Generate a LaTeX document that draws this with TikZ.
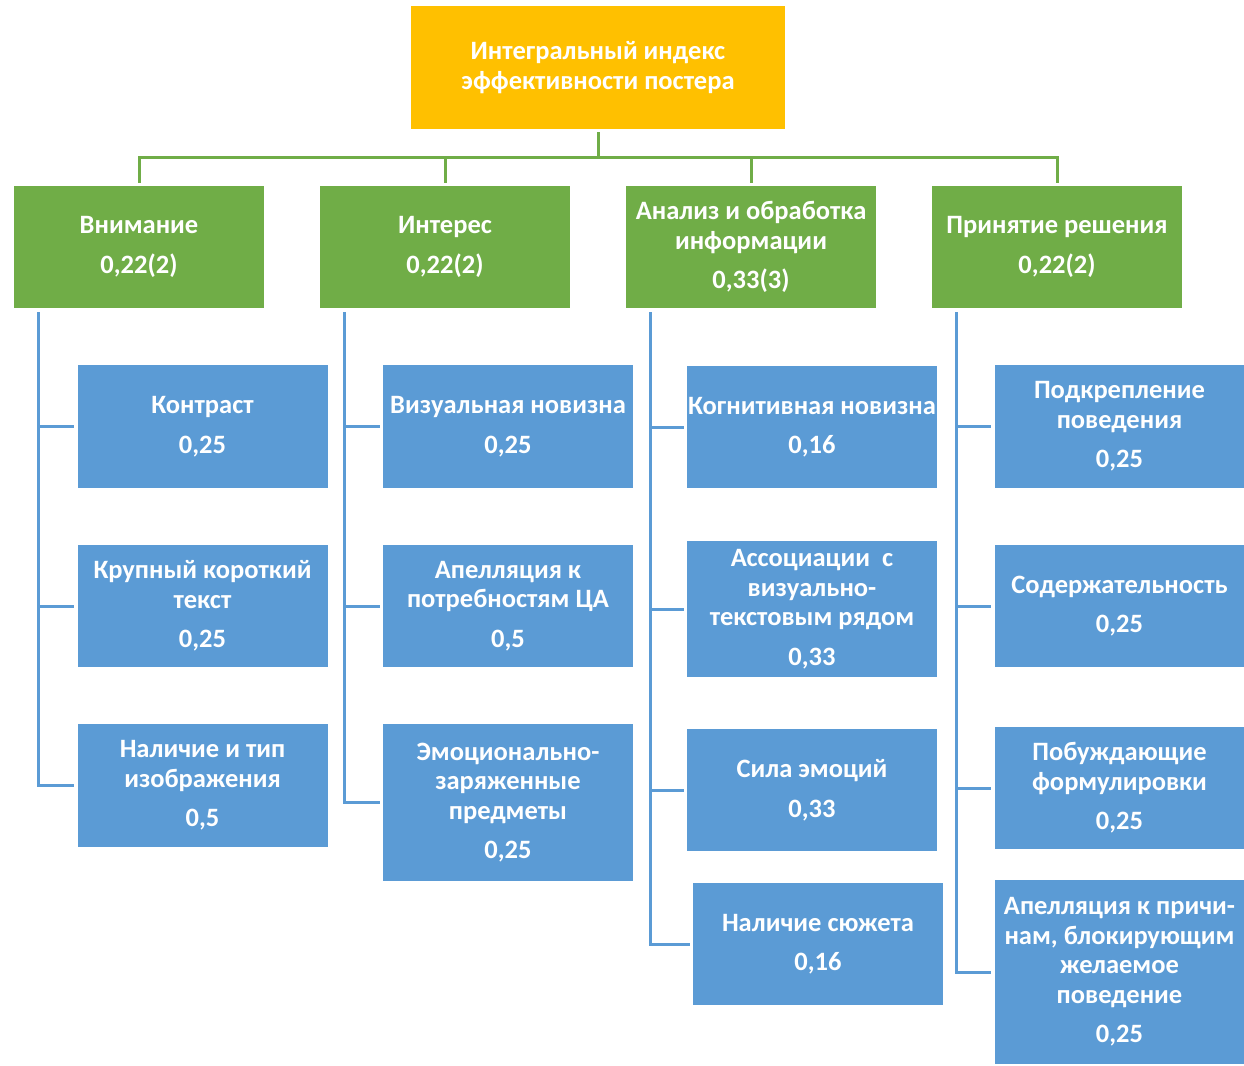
\documentclass[tikz,border=0pt]{standalone}
\usepackage{fontspec}
\setmainfont{Carlito}
\definecolor{cgreen}{HTML}{70AD47}
\definecolor{cblue}{HTML}{5B9BD5}
\definecolor{corange}{HTML}{FFC000}
\newcommand\pgap{\\[10pt]}
\begin{document}
\begin{tikzpicture}[x=1pt,y=-1pt,
  box/.style={inner sep=0pt, text=white, align=center,
    font=\fontsize{26.5}{29.5}\selectfont\bfseries},
  topbox/.style={box, fill=corange, minimum width=374pt, minimum height=123pt},
  gbox/.style={box, fill=cgreen, minimum width=250pt, minimum height=122pt},
  bbox/.style={box, fill=cblue, minimum width=250pt},
  gline/.style={draw=cgreen, line width=3pt},
  bline/.style={draw=cblue, line width=3pt}]
\useasboundingbox (0,0) rectangle (1244,1065);

\node[topbox] (top) at (598,67.5) {Интегральный индекс\\эффективности постера};

\node[gbox] (g1) at (139,247) {Внимание\pgap 0,22(2)};
\node[gbox] (g2) at (445,247) {Интерес\pgap 0,22(2)};
\node[gbox] (g3) at (751,247) {Анализ и обработка\\информации\pgap 0,33(3)};
\node[gbox] (g4) at (1057,247) {Принятие решения\pgap 0,22(2)};

% column 1
\node[bbox, minimum height=123pt] (b11) at (202.5,426.5) {Контраст\pgap 0,25};
\node[bbox, minimum height=122pt] (b12) at (202.5,606) {Крупный короткий\\текст\pgap 0,25};
\node[bbox, minimum height=123pt] (b13) at (202.5,785.5) {Наличие и тип\\изображения\pgap 0,5};
% column 2
\node[bbox, minimum height=123pt] (b21) at (508,426.5) {Визуальная новизна\pgap 0,25};
\node[bbox, minimum height=122pt] (b22) at (508,606) {Апелляция к\\потребностям ЦА\pgap 0,5};
\node[bbox, minimum height=157pt] (b23) at (508,802.5) {Эмоционально-\\заряженные\\предметы\pgap 0,25};
% column 3
\node[bbox, minimum height=122pt] (b31) at (812,427) {Когнитивная новизна\pgap 0,16};
\node[bbox, minimum height=136pt] (b32) at (812,609) {Ассоциации~ с\\визуально-\\текстовым рядом\pgap 0,33};
\node[bbox, minimum height=122pt] (b33) at (812,790) {Сила эмоций\pgap 0,33};
\node[bbox, minimum height=122pt] (b34) at (818,944) {Наличие сюжета\pgap 0,16};
% column 4
\node[bbox, minimum height=123pt] (b41) at (1119.5,426.5) {Подкрепление\\поведения\pgap 0,25};
\node[bbox, minimum height=122pt] (b42) at (1119.5,606) {Содержательность\pgap 0,25};
\node[bbox, minimum height=122pt] (b43) at (1119.5,788) {Побуждающие\\формулировки\pgap 0,25};
\node[bbox, minimum height=184pt] (b44) at (1119.5,972) {Апелляция к причи-\\нам, блокирующим\\желаемое\\поведение\pgap 0,25};

% green connectors
\coordinate (bus) at (598,157);
\draw[gline] ([yshift=-3pt]top.south) -- (bus);
\foreach \g in {g1,g2,g3,g4}{
  \draw[gline] (bus) -| ([yshift=3pt]\g.north);
}

% blue connectors
\coordinate (s1) at (38,312);
\coordinate (s2) at (344,312);
\coordinate (s3) at (650,312);
\coordinate (s4) at (956,312);
\foreach \b in {b11,b12,b13}{\draw[bline] (s1) |- ([xshift=-3pt]\b.west);}
\foreach \b in {b21,b22,b23}{\draw[bline] (s2) |- ([xshift=-3pt]\b.west);}
\foreach \b in {b31,b32,b33,b34}{\draw[bline] (s3) |- ([xshift=-3pt]\b.west);}
\foreach \b in {b41,b42,b43,b44}{\draw[bline] (s4) |- ([xshift=-3pt]\b.west);}
\end{tikzpicture}
\end{document}
